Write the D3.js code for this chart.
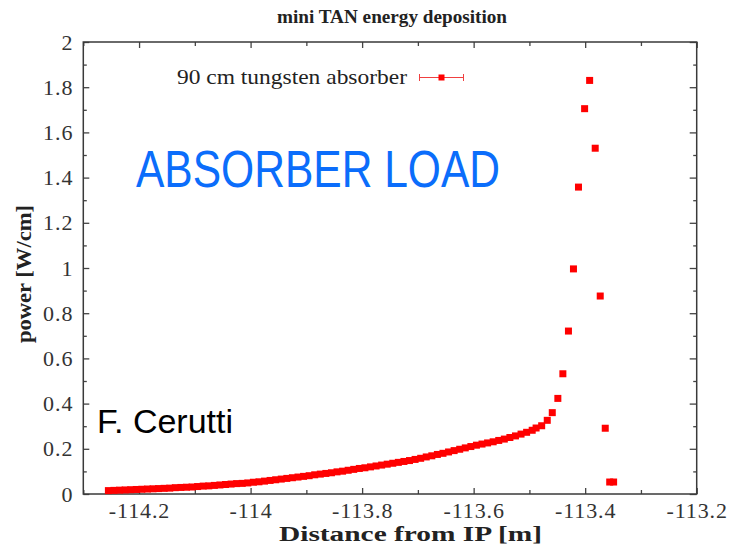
<!DOCTYPE html>
<html>
<head>
<meta charset="utf-8">
<script src="https://cdn.jsdelivr.net/npm/d3@7"></script>
<style>
  body { margin: 0; background: #fff; }
  svg { display: block; }
</style>
</head>
<body>
<svg id="chart"></svg>
<script>
// distance from IP [m], dense part of the deposition curve
let distDense = [
  -114.255, -114.245, -114.235, -114.225, -114.215, -114.205, -114.195, -114.185,
  -114.175, -114.165, -114.155, -114.145, -114.135, -114.125, -114.115, -114.105,
  -114.095, -114.085, -114.075, -114.065, -114.055, -114.045, -114.035, -114.025,
  -114.015, -114.005, -113.995, -113.985, -113.975, -113.965, -113.955, -113.945,
  -113.935, -113.925, -113.915, -113.905, -113.895, -113.885, -113.875, -113.865,
  -113.855, -113.845, -113.835, -113.825, -113.815, -113.805, -113.795, -113.785,
  -113.775, -113.765, -113.755, -113.745, -113.735, -113.725, -113.715, -113.705,
  -113.695, -113.685, -113.675, -113.665, -113.655, -113.645, -113.635, -113.625,
  -113.615, -113.605, -113.595, -113.585, -113.575, -113.565, -113.555, -113.545,
  -113.535, -113.525, -113.515, -113.505, -113.495
];
// power [W/cm]
let powerDense = [
  0.015, 0.016, 0.017, 0.018, 0.019, 0.020, 0.021, 0.022,
  0.023, 0.024, 0.025, 0.026, 0.028, 0.029, 0.030, 0.031,
  0.033, 0.035, 0.036, 0.038, 0.040, 0.042, 0.044, 0.046,
  0.047, 0.049, 0.052, 0.054, 0.057, 0.060, 0.063, 0.066,
  0.069, 0.072, 0.075, 0.078, 0.081, 0.085, 0.088, 0.091,
  0.094, 0.098, 0.101, 0.105, 0.109, 0.113, 0.116, 0.120,
  0.124, 0.128, 0.132, 0.136, 0.140, 0.144, 0.148, 0.153,
  0.158, 0.164, 0.169, 0.175, 0.180, 0.186, 0.192, 0.198,
  0.204, 0.210, 0.216, 0.221, 0.226, 0.231, 0.237, 0.243,
  0.250, 0.257, 0.265, 0.273, 0.282
];
// peak region near the end of the absorber
let distPeak = [
  -113.488, -113.478, -113.468, -113.459, -113.449, -113.440, -113.430, -113.421,
  -113.412, -113.401, -113.392, -113.382, -113.373, -113.364, -113.356, -113.349
];
let powerPeak = [
  0.292, 0.302, 0.326, 0.360, 0.423, 0.532, 0.721, 0.996,
  1.358, 1.705, 1.830, 1.530, 0.876, 0.291, 0.053, 0.053
];

let xTicks = [-114.2, -114, -113.8, -113.6, -113.4, -113.2];
let xTickLabels = ["-114.2", "-114", "-113.8", "-113.6", "-113.4", "-113.2"];
let xMinor = [-114.3, -114.1, -113.9, -113.7, -113.5, -113.3];
let yTicks = [0, 0.2, 0.4, 0.6, 0.8, 1, 1.2, 1.4, 1.6, 1.8, 2];
let yTickLabels = ["0", "0.2", "0.4", "0.6", "0.8", "1", "1.2", "1.4", "1.6", "1.8", "2"];
let yMinor = [0.1, 0.3, 0.5, 0.7, 0.9, 1.1, 1.3, 1.5, 1.7, 1.9];

let width = 730;
let height = 547;
let margin = { top: 42, right: 33.3, bottom: 53, left: 83.3 };
let serif = "'Liberation Serif', 'Times New Roman', serif";
let sans = "'Liberation Sans', Arial, sans-serif";

let svg = d3.select("#chart").attr("width", width).attr("height", height);

let x = d3.scaleLinear().domain([-114.3, -113.2]).range([margin.left, width - margin.right]);
let y = d3.scaleLinear().domain([0, 2]).range([height - margin.bottom, margin.top]);

let points = distDense.map((d, i) => ({ x: d, y: powerDense[i] }))
  .concat(distPeak.map((d, i) => ({ x: d, y: powerPeak[i] })));

function styleAxis(g) {
  g.select(".domain").remove();
  g.selectAll(".tick line").attr("stroke", "#444").attr("stroke-width", 1.3);
  g.selectAll(".tick text").attr("fill", "#333")
    .style("font-family", serif).style("font-size", "22px").style("letter-spacing", "0.9px");
}

// major axes, ticks pointing inward
let xFmt = d => xTickLabels[xTicks.indexOf(d)];
let yFmt = d => yTickLabels[yTicks.indexOf(d)];

svg.append("g").attr("transform", `translate(0,${y(0)})`)
  .call(d3.axisBottom(x).tickValues(xTicks).tickFormat(xFmt).tickSize(-6).tickPadding(8))
  .call(styleAxis);
svg.append("g").attr("transform", `translate(0,${y(2)})`)
  .call(d3.axisTop(x).tickValues(xTicks).tickFormat("").tickSize(-6))
  .call(styleAxis);
svg.append("g").attr("transform", `translate(${x(-114.3)},0)`)
  .call(d3.axisLeft(y).tickValues(yTicks).tickFormat(yFmt).tickSize(-6).tickPadding(10))
  .call(styleAxis);
svg.append("g").attr("transform", `translate(${x(-113.2)},0)`)
  .call(d3.axisRight(y).tickValues(yTicks).tickFormat("").tickSize(-7))
  .call(styleAxis);

// minor ticks
svg.append("g").attr("transform", `translate(0,${y(0)})`)
  .call(d3.axisBottom(x).tickValues(xMinor).tickFormat("").tickSize(-4)).call(styleAxis);
svg.append("g").attr("transform", `translate(0,${y(2)})`)
  .call(d3.axisTop(x).tickValues(xMinor).tickFormat("").tickSize(-4)).call(styleAxis);
svg.append("g").attr("transform", `translate(${x(-114.3)},0)`)
  .call(d3.axisLeft(y).tickValues(yMinor).tickFormat("").tickSize(-3.5)).call(styleAxis);
svg.append("g").attr("transform", `translate(${x(-113.2)},0)`)
  .call(d3.axisRight(y).tickValues(yMinor).tickFormat("").tickSize(-3.5)).call(styleAxis);

// frame
svg.append("rect")
  .attr("x", x(-114.3)).attr("y", y(2))
  .attr("width", x(-113.2) - x(-114.3)).attr("height", y(0) - y(2))
  .attr("fill", "none").attr("stroke", "#3a3a3a").attr("stroke-width", 1.5);

// data markers
let ms = 7;
svg.append("g").selectAll("rect")
  .data(points)
  .join("rect")
  .attr("x", d => x(d.x) - ms / 2)
  .attr("y", d => y(d.y) - ms / 2)
  .attr("width", ms).attr("height", ms)
  .attr("fill", "#ff0000");

// legend
svg.append("text").attr("x", 177).attr("y", 84)
  .attr("fill", "#222")
  .style("font-family", serif).style("font-size", "21px")
  .attr("textLength", 230).attr("lengthAdjust", "spacingAndGlyphs")
  .text("90 cm tungsten absorber");
let lg = svg.append("g").attr("stroke", "#f04040").attr("stroke-width", 1);
lg.append("line").attr("x1", 419.5).attr("x2", 463.5).attr("y1", 77.5).attr("y2", 77.5);
lg.append("line").attr("x1", 419.5).attr("x2", 419.5).attr("y1", 74).attr("y2", 81);
lg.append("line").attr("x1", 463.5).attr("x2", 463.5).attr("y1", 74).attr("y2", 81);
svg.append("rect").attr("x", 438.5).attr("y", 74.5).attr("width", 6).attr("height", 6).attr("fill", "#ff0000");

// title and axis labels
svg.append("text").attr("x", 277).attr("y", 23)
  .attr("fill", "#222").style("font-family", serif).style("font-size", "18px").style("font-weight", "bold")
  .attr("textLength", 230).attr("lengthAdjust", "spacingAndGlyphs")
  .text("mini TAN energy deposition");
svg.append("text").attr("x", 279).attr("y", 541)
  .attr("fill", "#222").style("font-family", serif).style("font-size", "20px").style("font-weight", "bold")
  .attr("textLength", 263).attr("lengthAdjust", "spacingAndGlyphs")
  .text("Distance from IP [m]");
svg.append("text").attr("transform", "translate(31,343) rotate(-90)")
  .attr("fill", "#222").style("font-family", serif).style("font-size", "20px").style("font-weight", "bold")
  .attr("textLength", 138).attr("lengthAdjust", "spacingAndGlyphs")
  .text("power [W/cm]");

// annotations
svg.append("text").attr("x", 136).attr("y", 187)
  .attr("fill", "#0b6dfb").style("font-family", sans).style("font-size", "51px")
  .attr("textLength", 364).attr("lengthAdjust", "spacingAndGlyphs")
  .text("ABSORBER LOAD");
svg.append("text").attr("x", 97).attr("y", 433)
  .attr("fill", "#000").style("font-family", sans).style("font-size", "34px")
  .text("F. Cerutti");
</script>
</body>
</html>
